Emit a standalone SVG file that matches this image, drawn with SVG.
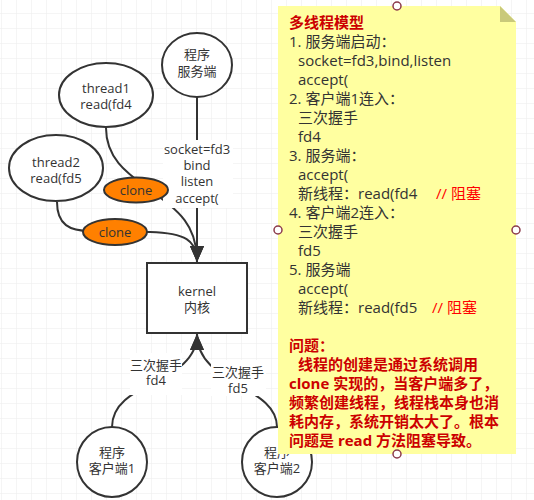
<svg xmlns="http://www.w3.org/2000/svg" width="534" height="500" viewBox="0 0 534 500">
<defs>
<pattern id="grid" x="1" y="13" width="15" height="15" patternUnits="userSpaceOnUse">
<path d="M0,0 H15 M0,0 V15" fill="none" stroke="#ebebeb" stroke-width="1"/>
</pattern>
<marker id="arr" viewBox="0 0 16 14" refX="16" refY="7" markerWidth="16" markerHeight="14" markerUnits="userSpaceOnUse" orient="auto">
<path d="M0,0 L16,7 L0,14 z" fill="#333"/>
</marker>
<style>
text{font-family:"Open Sans","Noto Sans CJK SC",sans-serif;}
.n{fill:#fff;stroke:#333;stroke-width:2;}
.c{fill:#ff8000;stroke:#333;stroke-width:2;}
.t{font-size:13px;fill:#333;text-anchor:middle;}
.e{fill:none;stroke:#333;stroke-width:2;}
.lb{fill:#fff;stroke:none;}
.nt{font-size:15px;fill:#333;}
.rb{fill:#cc0000;font-weight:bold;}
.rr{fill:#ff0000;}
.h{fill:#fff;stroke:#8b3a4a;stroke-width:1.5;}
</style>
</defs>
<rect x="0" y="0" width="534" height="500" fill="#fff"/>
<rect x="0" y="0" width="534" height="500" fill="url(#grid)"/>

<g id="connectors">
<path class="e" d="M197,97 V262" marker-end="url(#arr)"/>
<path class="e" d="M106,128 C106,160 130,175 150,190 C180,212 197,225 197,262" marker-end="url(#arr)"/>
<path class="e" d="M57,202 C57,225 70,231 90,231 L150,232 C185,233 197,240 197,262" marker-end="url(#arr)"/>
<path class="e" d="M112,427 C112,380 197,385 197,334" marker-end="url(#arr)"/>
<path class="e" d="M277,427 C277,385 197,385 197,334" marker-end="url(#arr)"/>
<g id="label-socket">
<rect class="lb" x="163" y="140" width="70" height="68"/>
<text class="t"><tspan x="197" y="154">socket=fd3</tspan><tspan x="197" y="170">bind</tspan><tspan x="197" y="186">listen</tspan><tspan x="197" y="203">accept(</tspan></text>
</g>
<g id="label-fd4">
<rect class="lb" x="130" y="353" width="52" height="42"/>
<text class="t"><tspan x="156" y="370">三次握手</tspan><tspan x="156" y="385">fd4</tspan></text>
</g>
<g id="label-fd5">
<rect class="lb" x="211" y="360" width="55" height="36"/>
<text class="t"><tspan x="238" y="377">三次握手</tspan><tspan x="238" y="393">fd5</tspan></text>
</g>
</g>

<g id="server">
<ellipse class="n" cx="197" cy="65" rx="35" ry="32"/>
<text class="t"><tspan x="197" y="59">程序</tspan><tspan x="197" y="76">服务端</tspan></text>
</g>
<g id="thread1">
<ellipse class="n" cx="106" cy="95" rx="47" ry="32"/>
<text class="t"><tspan x="106" y="93">thread1</tspan><tspan x="106" y="109">read(fd4</tspan></text>
</g>
<g id="thread2">
<ellipse class="n" cx="56" cy="168" rx="47" ry="33"/>
<text class="t"><tspan x="56" y="167">thread2</tspan><tspan x="56" y="183">read(fd5</tspan></text>
</g>
<g id="clone1">
<ellipse class="c" cx="136" cy="190" rx="32" ry="12.5"/>
<text class="t" x="136" y="195">clone</text>
</g>
<g id="clone2">
<ellipse class="c" cx="115" cy="232" rx="32" ry="13"/>
<text class="t" x="115" y="237">clone</text>
</g>
<g id="kernel">
<rect class="n" x="147" y="263" width="100" height="70"/>
<text class="t"><tspan x="197" y="296">kernel</tspan><tspan x="197" y="312">内核</tspan></text>
</g>
<g id="client1">
<circle class="n" cx="112" cy="462" r="35"/>
<text class="t"><tspan x="112" y="457">程序</tspan><tspan x="112" y="473">客户端1</tspan></text>
</g>
<g id="client2">
<circle class="n" cx="277" cy="462" r="35"/>
<text class="t"><tspan x="277" y="457">程序</tspan><tspan x="277" y="473">客户端2</tspan></text>
</g>

<g id="note">
<path d="M278,6 H500 L516,22 V454 H278 Z" fill="#ffffa0"/>
<path d="M500,6 L516,22 H500 Z" fill="#c9c97a"/>
<text class="nt"><tspan class="rb" x="289" y="28">多线程模型</tspan><tspan x="289" y="47">1. 服务端启动：</tspan><tspan x="298" y="66">socket=fd3,bind,listen</tspan><tspan x="298" y="85">accept(</tspan><tspan x="289" y="104">2. 客户端1连入：</tspan><tspan x="298" y="123">三次握手</tspan><tspan x="298" y="142">fd4</tspan><tspan x="289" y="161">3. 服务端：</tspan><tspan x="298" y="180">accept(</tspan><tspan x="298" y="199">新线程：read(fd4</tspan><tspan class="rr" x="436" y="199">// 阻塞</tspan><tspan x="289" y="218">4. 客户端2连入：</tspan><tspan x="298" y="237">三次握手</tspan><tspan x="298" y="256">fd5</tspan><tspan x="289" y="275">5. 服务端</tspan><tspan x="298" y="294">accept(</tspan><tspan x="298" y="313">新线程：read(fd5</tspan><tspan class="rr" x="432" y="313">// 阻塞</tspan><tspan class="rb" x="289" y="351">问题：</tspan><tspan class="rb" x="298" y="370">线程的创建是通过系统调用</tspan><tspan class="rb" x="289" y="389">clone 实现的，当客户端多了，</tspan><tspan class="rb" x="289" y="408">频繁创建线程，线程栈本身也消</tspan><tspan class="rb" x="289" y="427">耗内存，系统开销太大了。根本</tspan><tspan class="rb" x="289" y="446">问题是 read 方法阻塞导致。</tspan></text>
<circle class="h" cx="397" cy="6" r="4"/>
<circle class="h" cx="278" cy="230" r="4"/>
<circle class="h" cx="516" cy="230" r="4"/>
<circle class="h" cx="397" cy="454" r="4"/>
</g>
</svg>
